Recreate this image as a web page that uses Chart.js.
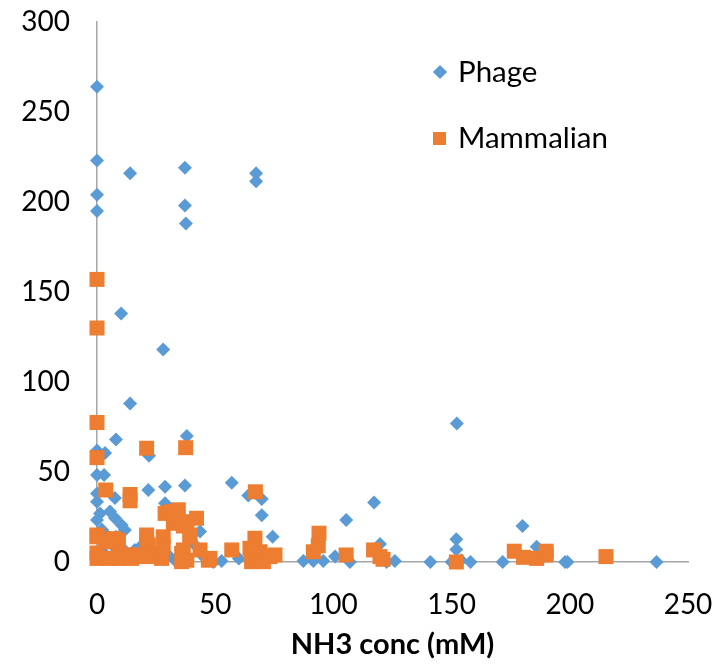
<!DOCTYPE html>
<html>
<head>
<meta charset="utf-8">
<script src="https://cdn.jsdelivr.net/npm/chart.js@4/dist/chart.umd.min.js"></script>
<style>
  html, body { margin: 0; padding: 0; background: #fff; }
  #wrap { position: relative; width: 716px; height: 669px; }
  canvas { display: block; }
  .lg { position: absolute; font-family: Lato, "Open Sans", sans-serif; font-size: 29.5px; line-height: 28px; color: #000; white-space: nowrap; }
  .mk { position: absolute; }
</style>
</head>
<body>
<div id="wrap">
  <canvas id="c" width="716" height="669"></canvas>
  <div class="mk" id="mkP" style="left:435px;top:67px;width:10px;height:10px;background:#5B9BD5;transform:rotate(45deg);"></div>
  <div class="lg" id="lgP" style="left:458px;top:57px;">Phage</div>
  <div class="mk" id="mkM" style="left:433px;top:132px;width:13px;height:13px;background:#ED7D31;"></div>
  <div class="lg" id="lgM" style="left:458px;top:123px;">Mammalian</div>
</div>
<script>
// ---- Data ----
const seriesNames = ["Phage", "Mammalian"];

const phageX = [
  0, 0, 0, 0, 14, 37.2, 37.2, 37.6, 67.3, 67.3,
  10.2, 28, 14, 152.2,
  0, 3.4, 8, 22, 38, 0, 3, 57, 64, 69.7, 69.7, 74.3,
  21.7, 28.8, 37.2, 28.8, 105.4, 117.2, 180, 152, 152, 186, 43.6, 119.7,
  0, 0, 7.6, 1.3, 5.5, 0, 7.6, 10.4, 11.8, 8, 16, 2, 4, 6, 12, 14,
  49.2, 52.7, 64.7, 87.3, 91.5, 95.7, 100.7, 107, 122.5, 126, 141, 150, 154, 158, 171.6, 186, 198, 199, 236.7,
  25, 30, 33, 45, 60, 72, 3, 18, 41
];
const phageY = [
  264, 223, 204, 195, 216, 219, 198, 188, 216, 211.5,
  138, 118, 88, 77,
  62, 60.5, 68, 59, 70, 48.3, 48.3, 44, 37, 35, 26, 14,
  40, 41.8, 42.5, 32.6, 23.3, 33, 20, 12.6, 7, 8.5, 17, 10,
  38, 33.5, 35.5, 27, 28, 23.3, 24.4, 20.5, 17.8, 14, 6.7, 18, 15, 10, 6, 2,
  0, 0.5, 0.5, 0.5, 0.5, 0.5, 3, 0, 0, 0.5, 0, 0, 1, 0, 0, 2, 0, 0, 0,
  2, 4, 1, 3, 2, 1, 5, 8, 10
];

const mammX = [
  0, 0, 0, 0, 21, 37.5, 3.7, 14, 14, 67,
  28.8, 34.4, 32.3, 38, 42.1, 36.5, 31,
  0, 0, 0, 0, 3.4, 4.8, 9, 9, 9, 9, 14.7, 21, 21, 21.7, 21, 28, 28, 27.3, 35.8, 35.8, 39.3, 39.3, 36.5, 43.6, 47.1, 38, 47.8,
  6.9, 15.4, 26.6,
  57, 66.8, 64.7, 69, 73.2, 65.4, 70.4, 75.3,
  93.9, 93.6, 91.5, 105.4, 117, 119.7, 121,
  152, 176.5, 180.4, 186, 190, 190, 215.3
];
const mammY = [
  157, 130, 77.5, 58, 63.2, 63.5, 40, 37.5, 34, 39,
  27, 29, 21.5, 22.4, 24.3, 20, 28,
  15, 14, 5, 2, 11.3, 2, 10.5, 12.2, 2, 3, 2, 12.2, 15, 9.4, 3, 14, 8.5, 2, 4.8, 0.2, 14, 15, 6.7, 6.7, 1, 1, 2,
  13, 4, 4.8,
  6.7, 13.2, 7.6, 5.7, 3, 0.2, 0.2, 3.9,
  16, 9, 5.7, 3.9, 6.7, 3, 1.5,
  0, 6, 2.6, 2, 3.9, 6, 3
];

const xTicks = [0, 50, 100, 150, 200, 250];
const yTicks = [0, 50, 100, 150, 200, 250, 300];
const xTitle = "NH3 conc (mM)";

// ---- Build chart ----
const toPts = (xs, ys) => xs.map((x, i) => ({ x: x, y: ys[i] }));
const FONT = 'Lato, "Open Sans", sans-serif';
const AXIS = '#a6a6a6';

new Chart(document.getElementById('c'), {
  type: 'scatter',
  data: {
    datasets: [
      {
        label: seriesNames[1],
        data: toPts(mammX, mammY),
        pointStyle: 'rect',
        pointRadius: 10.6,
        pointHoverRadius: 10.6,
        backgroundColor: '#ED7D31',
        borderColor: '#ED7D31',
        borderWidth: 0,
        clip: false
      },
      {
        label: seriesNames[0],
        data: toPts(phageX, phageY),
        pointStyle: 'rectRot',
        pointRadius: 7,
        pointHoverRadius: 7,
        backgroundColor: '#5B9BD5',
        borderColor: '#5B9BD5',
        borderWidth: 0,
        clip: false
      }
    ]
  },
  options: {
    responsive: false,
    animation: false,
    events: [],
    layout: { autoPadding: false, padding: { left: 0, top: 22, right: 28, bottom: 0 } },
    plugins: { legend: { display: false }, tooltip: { enabled: false } },
    scales: {
      x: {
        type: 'linear',
        min: xTicks[0],
        max: xTicks[xTicks.length - 1],
        afterBuildTicks: (s) => { s.ticks = xTicks.map(v => ({ value: v })); },
        afterFit: (s) => { s.height = 107; s.paddingLeft = 0; s.paddingRight = 0; },
        grid: { display: false, drawTicks: false },
        border: { display: true, color: AXIS, width: 1.5 },
        ticks: { padding: 26, color: '#000', font: { family: FONT, size: 28 } },
        title: {
          display: true,
          text: xTitle,
          color: '#000',
          font: { family: FONT, size: 29, weight: 'bold' },
          padding: { top: 0, bottom: 7 }
        }
      },
      y: {
        type: 'linear',
        min: yTicks[0],
        max: yTicks[yTicks.length - 1],
        afterBuildTicks: (s) => { s.ticks = yTicks.map(v => ({ value: v })); },
        afterFit: (s) => { s.width = 97; s.paddingTop = 0; s.paddingBottom = 0; },
        grid: { display: false, drawTicks: false },
        border: { display: true, color: AXIS, width: 1.5 },
        ticks: { padding: 27, color: '#000', font: { family: FONT, size: 28 } }
      }
    }
  }
});
</script>
</body>
</html>
